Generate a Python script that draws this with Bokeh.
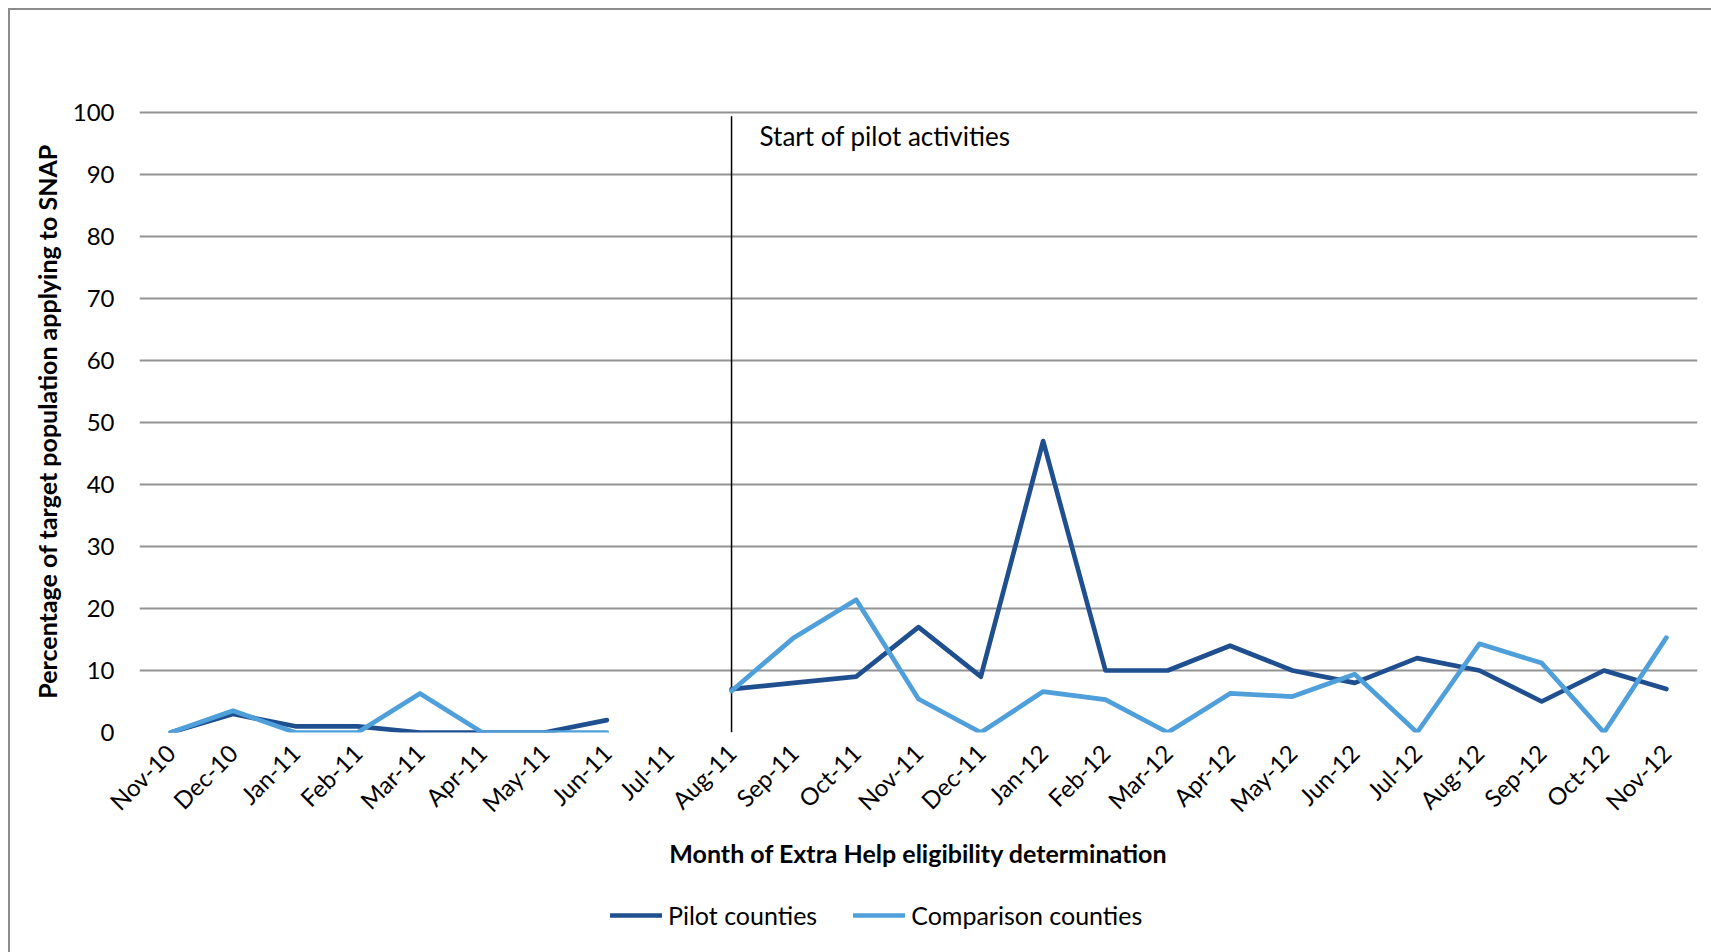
import math

from bokeh.embed import file_html
from bokeh.resources import INLINE
from bokeh.layouts import column
from bokeh.plotting import figure
from bokeh.models import (ColumnDataSource, FixedTicker, Legend, LegendItem,
                          Range1d, Label, Segment, CustomJSTickFormatter)

# Months of Extra Help eligibility determination
months = ["Nov-10", "Dec-10", "Jan-11", "Feb-11", "Mar-11", "Apr-11", "May-11",
          "Jun-11", "Jul-11", "Aug-11", "Sep-11", "Oct-11", "Nov-11", "Dec-11",
          "Jan-12", "Feb-12", "Mar-12", "Apr-12", "May-12", "Jun-12", "Jul-12",
          "Aug-12", "Sep-12", "Oct-12", "Nov-12"]

nan = float("nan")
# Percentage of target population applying to SNAP
pilot = [0, 3, 1, 1, 0, 0, 0, 2, nan, 7, 8, 9, 17, 9, 47, 10, 10, 14, 10, 8,
         12, 10, 5, 10, 7]
comparison = [0, 3.5, 0, 0, 6.3, 0, 0, 0, nan, 6.7, 15.3, 21.4, 5.4, 0, 6.6,
              5.3, 0, 6.3, 5.8, 9.4, 0, 14.3, 11.2, 0, 15.3]

series_names = ["Pilot counties", "Comparison counties"]
y_ticks = [0, 10, 20, 30, 40, 50, 60, 70, 80, 90, 100]
pilot_start = "Aug-11"

DARK = "#1f4f8f"
LIGHT = "#4f9fdb"
GRID = "#939393"
FONT = "Lato"
LINE_W = 4.7

xs = list(range(len(months)))
src = ColumnDataSource(dict(x=xs, pilot=pilot, comparison=comparison))

# a little headroom above 100 so the top grid line is not cut by the frame
p = figure(frame_width=1558, frame_height=622, output_backend="svg",
           toolbar_location=None,
           x_range=Range1d(-0.5, len(months) - 0.5), y_range=Range1d(0, 100.32),
           min_border_left=129, min_border_right=14, min_border_top=100,
           min_border_bottom=148, outline_line_color=None)

# grid
p.xgrid.grid_line_color = None
p.ygrid.grid_line_color = GRID
p.ygrid.grid_line_width = 2
p.ygrid.ticker = FixedTicker(ticks=y_ticks)

# y axis
p.yaxis.ticker = FixedTicker(ticks=y_ticks)
p.yaxis.axis_line_color = None
p.yaxis.major_tick_line_color = None
p.yaxis.major_tick_out = 0
p.yaxis.minor_tick_line_color = None
p.yaxis.minor_tick_out = 0
p.yaxis.major_label_standoff = 25
p.yaxis.major_label_text_font = FONT
p.yaxis.major_label_text_font_size = "24px"
p.yaxis.major_label_text_color = "#000000"
p.yaxis.axis_label = "Percentage of target population applying to SNAP"
p.yaxis.axis_label_text_font = FONT
p.yaxis.axis_label_text_font_style = "bold"
p.yaxis.axis_label_text_font_size = "25px"
p.yaxis.axis_label_text_color = "#000000"
p.yaxis.axis_label_standoff = 8

# x axis with month names
p.xaxis.ticker = FixedTicker(ticks=xs)
p.xaxis.formatter = CustomJSTickFormatter(args=dict(names=months),
                                          code="return names[Math.round(tick)] || ''")
p.xaxis.axis_line_color = None
p.xaxis.major_tick_line_color = None
p.xaxis.major_tick_out = 0
p.xaxis.minor_tick_line_color = None
p.xaxis.minor_tick_out = 0
p.xaxis.major_label_orientation = math.pi / 4
p.xaxis.major_label_standoff = 16
p.xaxis.major_label_text_font = FONT
p.xaxis.major_label_text_font_size = "24px"
p.xaxis.major_label_text_color = "#000000"
p.xaxis.axis_label = "Month of Extra Help eligibility determination"
p.xaxis.axis_label_text_font = FONT
p.xaxis.axis_label_text_font_style = "bold"
p.xaxis.axis_label_text_font_size = "25px"
p.xaxis.axis_label_text_color = "#000000"
p.xaxis.axis_label_standoff = 8

# marker for the start of pilot activities
start_x = months.index(pilot_start)
p.add_glyph(ColumnDataSource(dict(x0=[start_x], y0=[0], x1=[start_x], y1=[99.4])),
            Segment(x0="x0", y0="y0", x1="x1", y1="y1",
                    line_color="#000000", line_width=1.5))
p.add_layout(Label(x=start_x, y=96.15, x_offset=28, text="Start of pilot activities",
                   text_font=FONT, text_font_size="26px", text_color="#000000",
                   text_baseline="alphabetic"))

p.line("x", "pilot", source=src, line_color=DARK, line_width=LINE_W,
       line_join="round", line_cap="round")
p.line("x", "comparison", source=src, line_color=LIGHT, line_width=LINE_W,
       line_join="round", line_cap="round")

# legend strip under the chart; its key lines sit outside the visible range
leg = figure(width=1701, height=72, output_backend="svg", toolbar_location=None,
             x_range=Range1d(0, 1), y_range=Range1d(0, 1),
             x_axis_type=None, y_axis_type=None, min_border=0,
             outline_line_color=None)
leg.xgrid.grid_line_color = None
leg.ygrid.grid_line_color = None
k_pilot = leg.line(x=[5, 6], y=[5, 5], line_color=DARK, line_width=LINE_W,
                   line_cap="round")
k_comp = leg.line(x=[5, 6], y=[5, 5], line_color=LIGHT, line_width=LINE_W,
                  line_cap="round")
legend = Legend(items=[LegendItem(label=series_names[0], renderers=[k_pilot]),
                       LegendItem(label=series_names[1], renderers=[k_comp])],
                orientation="horizontal", location=(471, 22),
                label_text_font=FONT, label_text_font_size="25px",
                label_text_color="#000000", glyph_width=52, glyph_height=20,
                label_standoff=6, spacing=36, padding=6, margin=0,
                border_line_color=None, background_fill_alpha=0)
leg.add_layout(legend, "center")

page = column(p, leg, spacing=0)
page.margin = (8, 0, 0, 8)
page.styles = {"border-left": "2px solid #8c8c8c", "border-top": "2px solid #8c8c8c"}

open("out.html", "w").write(file_html(page, INLINE))
